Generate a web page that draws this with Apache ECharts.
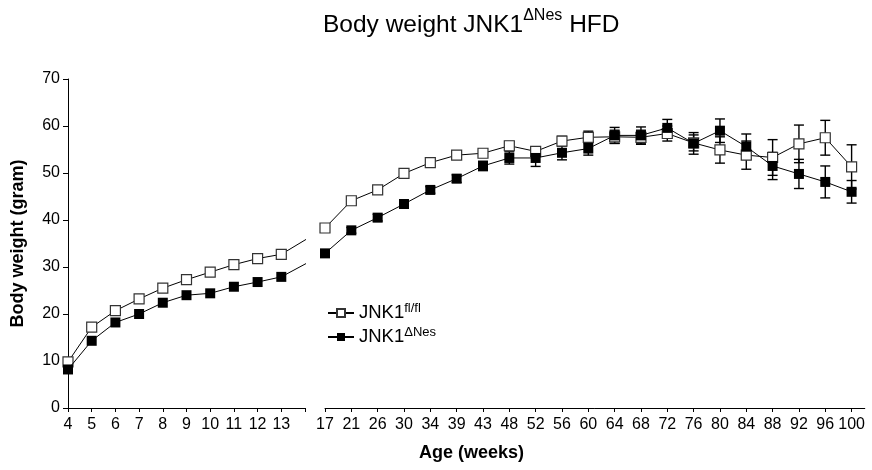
<!DOCTYPE html>
<html>
<head>
<meta charset="utf-8">
<script src="https://cdn.jsdelivr.net/npm/echarts@6/dist/echarts.min.js"></script>
<style>html,body{margin:0;padding:0;background:#fff}#c{width:872px;height:470px}</style>
</head>
<body>
<div id="c"></div>
<script>
// ---- data ----
const seg1Weeks = ['4','5','6','7','8','9','10','11','12','13'];
const seg2Weeks = ['17','21','26','30','34','39','43','48','52','56','60','64','68','72','76','80','84','88','92','96','100'];
const flflSeg1 = [9.8, 17.2, 20.7, 23.2, 25.5, 27.3, 28.9, 30.5, 31.8, 32.7];
const nesSeg1  = [8.2, 14.3, 18.2, 20.0, 22.4, 24.0, 24.4, 25.8, 26.8, 27.9];
const flflSeg2 = [38.3, 44.1, 46.4, 49.9, 52.2, 53.8, 54.2, 55.8, 54.6, 56.8, 57.6, 57.7, 57.6, 58.4, 56.4, 54.9, 53.8, 53.3, 56.2, 57.5, 51.3];
const nesSeg2  = [32.9, 37.8, 40.5, 43.4, 46.4, 48.8, 51.5, 53.2, 53.2, 54.3, 55.2, 58.0, 58.0, 59.6, 56.3, 59.0, 55.6, 51.5, 49.8, 48.1, 46.0];
const flflSem2 = [0.6, 0.6, 0.6, 0.6, 0.6, 0.7, 0.8, 0.9, 1.0, 1.0, 1.3, 1.4, 1.5, 1.6, 1.7, 2.8, 3.0, 3.8, 4.0, 3.7, 4.7];
const nesSem2  = [0.6, 0.6, 0.7, 0.7, 0.7, 0.8, 1.0, 1.3, 1.8, 1.5, 1.4, 1.7, 1.8, 1.8, 2.3, 2.5, 2.7, 2.9, 3.1, 3.4, 2.4];
const yTicks = [0, 10, 20, 30, 40, 50, 60, 70];
const NAME_FL = 'JNK1 fl/fl', NAME_NES = 'JNK1 ΔNes';

// ---- layout ----
const W = 872, TOP = 79, BOTTOM = 62;
const g1Left = 68, g1Right = 305, g1Max = 10;
const g2Left = 325, g2Max = 20.5, g2Step = 26.33;
const g2Right = W - (g2Left + g2Max * g2Step);
const FONT = 'Liberation Sans, Arial, sans-serif';

// line from week 13 continues toward the week-17 point and is clipped at the axis break
const step1 = (g1Right - g1Left) / g1Max;
const bridgeX = (g2Left - g1Left) / step1;

function seg1Data(vals, next) {
  const d = vals.map((v, i) => [i, v]);
  d.push({ value: [bridgeX, next], symbol: 'none' });
  return d;
}
const idx = arr => arr.map((_, i) => i);

const openStyle = { color: '#fff', borderColor: '#333', borderWidth: 1.2 };
const fillStyle = { color: '#000', borderColor: '#000', borderWidth: 0 };

function errBar(params, api) {
  const x = api.value(0), y = api.value(1), e = api.value(2);
  const t = api.coord([x, y + e]), b = api.coord([x, y - e]);
  const hw = 5;
  const st = { stroke: '#000', lineWidth: 1.4 };
  return { type: 'group', children: [
    { type: 'line', shape: { x1: t[0], y1: t[1], x2: b[0], y2: b[1] }, style: st },
    { type: 'line', shape: { x1: t[0] - hw, y1: t[1], x2: t[0] + hw, y2: t[1] }, style: st },
    { type: 'line', shape: { x1: b[0] - hw, y1: b[1], x2: b[0] + hw, y2: b[1] }, style: st }
  ]};
}

const axisCommon = {
  axisLine: { show: true, lineStyle: { color: '#000', width: 1 } },
  axisTick: { show: true, length: 4, lineStyle: { color: '#000', width: 1 } },
  splitLine: { show: false },
  axisLabel: { color: '#000', fontSize: 16, fontFamily: FONT, margin: 9 }
};

const chart = echarts.init(document.getElementById('c'), null, { renderer: 'canvas' });
chart.setOption({
  animation: false,
  backgroundColor: '#fff',
  title: {
    text: 'Body weight JNK1{sup|ΔNes} HFD',
    left: 318, top: 3,
    textStyle: { fontSize: 24.5, fontWeight: 'normal', color: '#000', fontFamily: FONT, lineHeight: 34,
      rich: { sup: { fontSize: 16, lineHeight: 17, verticalAlign: 'top', color: '#000', fontFamily: FONT } } }
  },
  legend: {
    orient: 'vertical', left: 322, top: 297,
    itemWidth: 26, itemHeight: 10, itemGap: 2,
    data: [NAME_FL, NAME_NES],
    formatter: n => n === NAME_FL ? 'JNK1{sup|fl/fl}' : 'JNK1{sup|ΔNes}',
    textStyle: { fontSize: 18.5, color: '#000', fontFamily: FONT, lineHeight: 22,
      rich: { sup: { fontSize: 13, lineHeight: 13, verticalAlign: 'top', color: '#000', fontFamily: FONT } } }
  },
  graphic: [{
    type: 'text', left: 419, top: 444,
    style: { text: 'Age (weeks)', font: 'bold 18px ' + FONT, fill: '#000' }
  }],
  grid: [
    { left: g1Left, right: W - g1Right, top: TOP, bottom: BOTTOM },
    { left: g2Left, right: g2Right, top: TOP, bottom: BOTTOM }
  ],
  xAxis: [
    Object.assign({}, axisCommon, {
      type: 'value', gridIndex: 0, min: 0, max: g1Max,
      axisTick: Object.assign({}, axisCommon.axisTick, { customValues: idx(seg1Weeks).concat([seg1Weeks.length]) }),
      axisLabel: Object.assign({}, axisCommon.axisLabel, { customValues: idx(seg1Weeks), formatter: v => seg1Weeks[Math.round(v)] || '' })
    }),
    Object.assign({}, axisCommon, {
      type: 'value', gridIndex: 1, min: 0, max: g2Max,
      axisTick: Object.assign({}, axisCommon.axisTick, { customValues: idx(seg2Weeks) }),
      axisLabel: Object.assign({}, axisCommon.axisLabel, { customValues: idx(seg2Weeks), formatter: v => seg2Weeks[Math.round(v)] || '' })
    })
  ],
  yAxis: [
    Object.assign({}, axisCommon, {
      type: 'value', gridIndex: 0, min: 0, max: 70, interval: 10,
      axisLabel: Object.assign({}, axisCommon.axisLabel, { margin: 8, formatter: v => yTicks.includes(v) ? String(v) : '' }),
      axisTick: Object.assign({}, axisCommon.axisTick, { length: 5 }),
      name: 'Body weight (gram)', nameLocation: 'middle', nameGap: 41,
      nameTextStyle: { fontSize: 18, fontWeight: 'bold', color: '#000', fontFamily: FONT }
    }),
    { type: 'value', gridIndex: 1, min: 0, max: 70, show: false, splitLine: { show: false } }
  ],
  series: [
    { type: 'custom', name: 'errFl', xAxisIndex: 1, yAxisIndex: 1, z: 1, renderItem: errBar,
      data: flflSeg2.map((v, i) => [i, v, flflSem2[i]]) },
    { type: 'custom', name: 'errNes', xAxisIndex: 1, yAxisIndex: 1, z: 1, renderItem: errBar,
      data: nesSeg2.map((v, i) => [i, v, nesSem2[i]]) },
    { type: 'line', name: NAME_FL, xAxisIndex: 0, yAxisIndex: 0, z: 3, clip: true,
      data: seg1Data(flflSeg1, flflSeg2[0]), symbol: 'rect', symbolSize: 10,
      lineStyle: { color: '#000', width: 1 }, itemStyle: openStyle },
    { type: 'line', name: NAME_FL, xAxisIndex: 1, yAxisIndex: 1, z: 3,
      data: flflSeg2.map((v, i) => [i, v]), symbol: 'rect', symbolSize: 10,
      lineStyle: { color: '#000', width: 1 }, itemStyle: openStyle },
    { type: 'line', name: NAME_NES, xAxisIndex: 0, yAxisIndex: 0, z: 4, clip: true,
      data: seg1Data(nesSeg1, nesSeg2[0]), symbol: 'rect', symbolSize: 10,
      lineStyle: { color: '#000', width: 1 }, itemStyle: fillStyle },
    { type: 'line', name: NAME_NES, xAxisIndex: 1, yAxisIndex: 1, z: 4,
      data: nesSeg2.map((v, i) => [i, v]), symbol: 'rect', symbolSize: 10,
      lineStyle: { color: '#000', width: 1 }, itemStyle: fillStyle }
  ]
});
</script>
</body>
</html>
